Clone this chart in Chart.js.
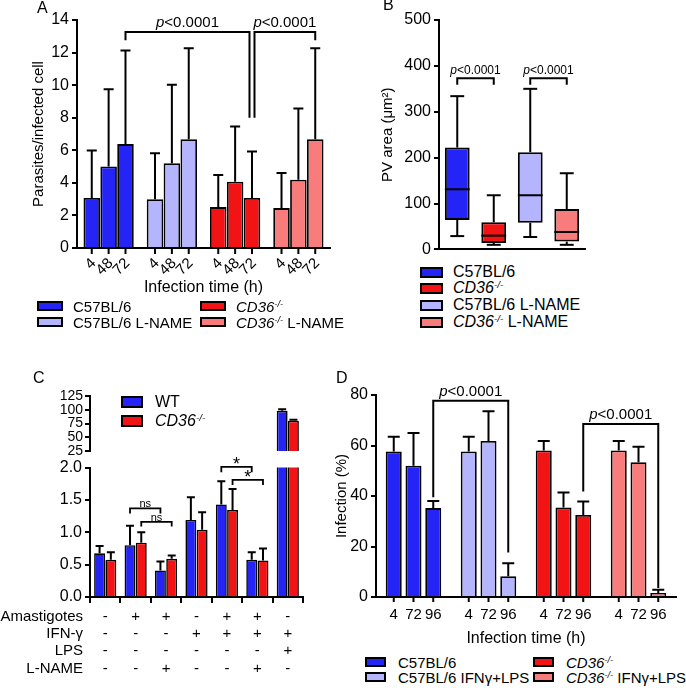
<!DOCTYPE html>
<html>
<head>
<meta charset="utf-8">
<script src="https://cdn.jsdelivr.net/npm/chart.js@4"></script>
<style>
  body { margin: 0; background: #fff; font-family: "Liberation Sans", Arial, sans-serif; color: #000; }
  #fig { position: relative; width: 686px; height: 688px; overflow: hidden; }
  #fig canvas { position: absolute; }
  .letter { position: absolute; font-size: 16px; line-height: 16px; }
  .leg { position: absolute; display: flex; align-items: center; white-space: nowrap; }
  .leg .sw { box-sizing: border-box; border: 2px solid #000; flex: none; }
  .leg sup { font-size: 0.62em; vertical-align: 0.55em; line-height: 0; }
</style>
</head>
<body>
<div id="fig">
  <canvas id="chartA" width="340" height="300" style="left:0;top:0"></canvas>
  <canvas id="chartB" width="343" height="262" style="left:343px;top:0"></canvas>
  <canvas id="chartCtop" width="320" height="80" style="left:0;top:380px"></canvas>
  <canvas id="chartCbot" width="320" height="230" style="left:0;top:455px"></canvas>
  <canvas id="chartD" width="356" height="275" style="left:330px;top:375px"></canvas>
  <div class="letter" style="left:37px;top:0">A</div>
  <div class="letter" style="left:383px;top:-3px">B</div>
  <div class="letter" style="left:33px;top:370px">C</div>
  <div class="letter" style="left:336px;top:370px">D</div>
</div>
<script>
// ---- Panel A: parasites per infected cell ----
const aGroups = ['C57BL/6', 'C57BL/6 L-NAME', 'CD36-/-', 'CD36-/- L-NAME'];
const aTimes = ['4', '48', '72'];
const aMean = [[3.07, 5.01, 6.38], [3.0, 5.21, 6.68], [2.51, 4.07, 3.07], [2.45, 4.19, 6.68]];
const aSD = [[2.92, 4.74, 5.74], [2.82, 4.82, 5.58], [1.97, 3.39, 2.86], [2.15, 4.37, 5.58]];

// ---- Panel B: PV area box plot ----
const bGroups = ['C57BL/6', 'CD36-/-', 'C57BL/6 L-NAME', 'CD36-/- L-NAME'];
const bMin = [29, 10, 27, 10];
const bQ1 = [64, 14, 58, 17];
const bMedian = [131, 30, 118, 38];
const bQ3 = [222, 59, 212, 88];
const bMax = [334, 118, 350, 166];

// ---- Panel C: nitrite ----
const cSeries = ['WT', 'CD36-/-'];
const cRowNames = ['Amastigotes', 'IFN-γ', 'LPS', 'L-NAME'];
const cAmastigotes = ['-', '+', '+', '-', '+', '+', '-'];
const cIfn = ['-', '-', '-', '+', '+', '+', '+'];
const cLps = ['-', '-', '-', '-', '-', '-', '+'];
const cLname = ['-', '-', '+', '-', '-', '+', '-'];
const cWT = [0.675, 0.80, 0.41, 1.19, 1.43, 0.575, 98];
const cWTsd = [0.115, 0.30, 0.14, 0.35, 0.36, 0.115, 3];
const cKO = [0.575, 0.84, 0.59, 1.04, 1.345, 0.565, 80];
const cKOsd = [0.115, 0.16, 0.05, 0.27, 0.325, 0.185, 2];
const cHighTicks = [25, 50, 75, 100, 125];

// ---- Panel D: infection % ----
const dGroups = ['C57BL/6', 'C57BL/6 IFNγ+LPS', 'CD36-/-', 'CD36-/- IFNγ+LPS'];
const dTimes = ['4', '72', '96'];
const dMean = [[57.6, 52, 35.2], [57.6, 61.8, 8.2], [58, 35.4, 32.5], [58, 53.4, 1.6]];
const dSD = [[5.9, 13, 2.8], [5.9, 11.8, 5.2], [3.8, 6, 5.3], [3.8, 6.1, 1.3]];

const BLUE = '#2424F6', LBLUE = '#B4B4FF', RED = '#F21414', SALMON = '#F87C7C';
const FONT = '"Liberation Sans", Arial, sans-serif';

Chart.defaults.font.family = FONT;
Chart.defaults.color = '#000';
Chart.defaults.animation = false;
Chart.defaults.plugins.legend.display = false;
Chart.defaults.plugins.tooltip.enabled = false;

// upward-only error bars, from dataset.sd
const errorBars = {
  id: 'errorBars',
  afterDatasetsDraw(chart, args, opts) {
    const ctx = chart.ctx, y = chart.scales.y;
    ctx.save();
    ctx.strokeStyle = '#000';
    ctx.lineWidth = 2;
    chart.data.datasets.forEach((ds, di) => {
      if (!ds.sd) return;
      chart.getDatasetMeta(di).data.forEach((bar, i) => {
        const v = ds.data[i], top = v + ds.sd[i];
        if (v < y.min || top > y.max) return;
        const py = y.getPixelForValue(top);
        ctx.beginPath();
        ctx.moveTo(bar.x, bar.y);
        ctx.lineTo(bar.x, py);
        ctx.moveTo(bar.x - opts.cap, py);
        ctx.lineTo(bar.x + opts.cap, py);
        ctx.stroke();
      });
    });
    ctx.restore();
  }
};

// one tick + label under every bar
const barTicks = {
  id: 'barTicks',
  afterDraw(chart, args, opts) {
    if (!opts.labels) return;
    const ctx = chart.ctx, base = chart.chartArea.bottom;
    ctx.save();
    ctx.font = opts.size + 'px ' + FONT;
    ctx.fillStyle = '#000';
    ctx.strokeStyle = '#000';
    ctx.lineWidth = 2;
    chart.data.datasets.forEach((ds, di) => {
      chart.getDatasetMeta(di).data.forEach(bar => {
        ctx.beginPath();
        ctx.moveTo(bar.x, base);
        ctx.lineTo(bar.x, base + opts.tick);
        ctx.stroke();
        ctx.save();
        ctx.translate(bar.x + opts.dx, base + opts.dy);
        ctx.rotate(-opts.rotate * Math.PI / 180);
        ctx.textAlign = opts.rotate ? 'right' : 'center';
        ctx.textBaseline = 'middle';
        ctx.fillText(opts.labels[di], 0, 0);
        ctx.restore();
      });
    });
    ctx.restore();
  }
};

function drawPText(ctx, text, x, y, size) {
  // leading "p" in italics, rest upright
  const italic = text.startsWith('p<');
  const head = italic ? 'p' : '', rest = italic ? text.slice(1) : text;
  ctx.font = 'italic ' + size + 'px ' + FONT;
  const w1 = ctx.measureText(head).width;
  ctx.font = size + 'px ' + FONT;
  const w2 = ctx.measureText(rest).width;
  let x0 = x - (w1 + w2) / 2;
  ctx.textAlign = 'left';
  ctx.textBaseline = 'alphabetic';
  if (head) {
    ctx.font = 'italic ' + size + 'px ' + FONT;
    ctx.fillText(head, x0, y);
  }
  ctx.font = size + 'px ' + FONT;
  ctx.fillText(rest, x0 + w1, y);
}

// significance brackets anchored on bars
const brackets = {
  id: 'brackets',
  afterDraw(chart, args, opts) {
    if (!opts.items) return;
    const ctx = chart.ctx, y = chart.scales.y;
    ctx.save();
    ctx.strokeStyle = '#000';
    ctx.fillStyle = '#000';
    ctx.lineWidth = opts.width || 2;
    opts.items.forEach(b => {
      const xL = chart.getDatasetMeta(b.from[0]).data[b.from[1]].x + (b.dxL || 0);
      const xR = chart.getDatasetMeta(b.to[0]).data[b.to[1]].x + (b.dxR || 0);
      const yT = y.getPixelForValue(b.top);
      ctx.beginPath();
      ctx.moveTo(xL, y.getPixelForValue(b.left));
      ctx.lineTo(xL, yT);
      ctx.lineTo(xR, yT);
      ctx.lineTo(xR, y.getPixelForValue(b.right));
      ctx.stroke();
      drawPText(ctx, b.text, (xL + xR) / 2, yT - opts.gap, opts.size);
    });
    ctx.restore();
  }
};

// whiskers and medians for the floating-bar boxes
const boxWhiskers = {
  id: 'boxWhiskers',
  afterDatasetsDraw(chart, args, opts) {
    const ctx = chart.ctx, y = chart.scales.y;
    ctx.save();
    ctx.strokeStyle = '#000';
    ctx.lineWidth = 2;
    chart.getDatasetMeta(0).data.forEach((bar, i) => {
      const half = bar.width / 2, cap = bar.width * 0.28;
      const line = (x1, y1, x2, y2) => { ctx.beginPath(); ctx.moveTo(x1, y1); ctx.lineTo(x2, y2); ctx.stroke(); };
      const pMed = y.getPixelForValue(opts.median[i]);
      line(bar.x - half, pMed, bar.x + half, pMed);
      const pMax = y.getPixelForValue(opts.max[i]), pMin = y.getPixelForValue(opts.min[i]);
      line(bar.x, y.getPixelForValue(opts.q3[i]), bar.x, pMax);
      line(bar.x - cap, pMax, bar.x + cap, pMax);
      line(bar.x, y.getPixelForValue(opts.q1[i]), bar.x, pMin);
      line(bar.x - cap, pMin, bar.x + cap, pMin);
    });
    ctx.restore();
  }
};

// row headers of the treatment table under panel C
const rowHeaders = {
  id: 'rowHeaders',
  afterDraw(chart, args, opts) {
    if (!opts.names) return;
    const ctx = chart.ctx, xs = chart.scales.x;
    const item = xs.getLabelItems()[0];
    const lh = opts.size * opts.lineHeight;
    ctx.save();
    ctx.font = opts.size + 'px ' + FONT;
    ctx.fillStyle = '#000';
    ctx.textAlign = 'right';
    ctx.textBaseline = item.options.textBaseline;
    opts.names.forEach((n, k) => {
      ctx.fillText(n, opts.right, item.options.translation[1] + item.textOffset + k * lh);
    });
    ctx.restore();
  }
};

function yAxis(min, max, step, width, title, titlePad, size) {
  return {
    min: min, max: max,
    ticks: { stepSize: step, font: { size: size || 16 }, padding: 3 },
    grid: { drawOnChartArea: false, color: '#000', lineWidth: 2, tickLength: 5 },
    border: { color: '#000', width: 2 },
    title: { display: !!title, text: title, font: { size: 15 }, padding: { top: titlePad, bottom: 0 } },
    afterFit: s => { s.width = width; }
  };
}

function xAxis(height, title, titlePad) {
  return {
    ticks: { display: false },
    grid: { display: false },
    border: { color: '#000', width: 2 },
    title: { display: !!title, text: title, font: { size: 16 }, padding: { top: 0, bottom: titlePad } },
    afterFit: s => { s.height = height; }
  };
}

function groupedBars(groups, times, mean, sd, colors) {
  return times.map((t, ti) => ({
    label: t + ' h',
    data: groups.map((g, gi) => mean[gi][ti]),
    sd: groups.map((g, gi) => sd[gi][ti]),
    backgroundColor: colors,
    borderColor: '#000',
    borderWidth: 1.8
  }));
}

// ---- A ----
new Chart(document.getElementById('chartA'), {
  type: 'bar',
  data: { labels: aGroups, datasets: groupedBars(aGroups, aTimes, aMean, aSD, [BLUE, LBLUE, RED, SALMON]) },
  options: {
    responsive: false,
    layout: { padding: { top: 20, right: 10, bottom: 0, left: 0 } },
    datasets: { bar: { categoryPercentage: 0.8, barPercentage: 0.98 } },
    scales: {
      x: xAxis(52, 'Infection time (h)', 3),
      y: yAxis(0, 14, 2, 77, 'Parasites/infected cell', 30)
    },
    plugins: {
      errorBars: { cap: 5 },
      barTicks: { labels: aTimes, size: 15, tick: 6, dx: 2, dy: 13, rotate: 45 },
      brackets: {
        size: 15, gap: 5,
        items: [
          { from: [2, 0], to: [2, 2], top: 13.26, left: 12.75, right: 8.0, dxR: -2.5, text: 'p<0.0001' },
          { from: [2, 2], to: [2, 3], top: 13.26, left: 8.0, right: 12.75, dxL: 2.5, text: 'p<0.0001' }
        ]
      }
    }
  },
  plugins: [errorBars, barTicks, brackets]
});

// ---- B ----
new Chart(document.getElementById('chartB'), {
  type: 'bar',
  data: {
    labels: bGroups,
    datasets: [{
      label: 'PV area',
      data: bGroups.map((g, i) => [bQ1[i], bQ3[i]]),
      backgroundColor: [BLUE, RED, LBLUE, SALMON],
      borderColor: '#000',
      borderWidth: 2,
      borderSkipped: false
    }]
  },
  options: {
    responsive: false,
    layout: { padding: { top: 20, right: 101, bottom: 12, left: 0 } },
    datasets: { bar: { categoryPercentage: 1, barPercentage: 0.68 } },
    scales: {
      x: xAxis(0),
      y: yAxis(0, 500, 100, 96, 'PV area (μm²)', 36)
    },
    plugins: {
      boxWhiskers: { min: bMin, q1: bQ1, median: bMedian, q3: bQ3, max: bMax },
      brackets: {
        size: 12, gap: 4,
        items: [
          { from: [0, 0], to: [0, 1], top: 373, left: 359, right: 359, text: 'p<0.0001' },
          { from: [0, 2], to: [0, 3], top: 373, left: 359, right: 359, text: 'p<0.0001' }
        ]
      }
    }
  },
  plugins: [boxWhiskers, brackets]
});

// ---- C (broken axis: two stacked charts) ----
const cLabels = cAmastigotes.map((a, i) => [a, cIfn[i], cLps[i], cLname[i]]);
const cDatasets = () => [
  { label: cSeries[0], data: cWT, sd: cWTsd, backgroundColor: BLUE, borderColor: '#000', borderWidth: 1.6 },
  { label: cSeries[1], data: cKO, sd: cKOsd, backgroundColor: RED, borderColor: '#000', borderWidth: 1.6 }
];

const cTopY = yAxis(25, 125, 25, 90, '', 0, 14);
cTopY.ticks.autoSkip = false;
cTopY.ticks.padding = 2;
cTopY.ticks.font = { size: 14, lineHeight: 0.8 };
cTopY.afterBuildTicks = s => { s.ticks = cHighTicks.map(v => ({ value: v })); };

new Chart(document.getElementById('chartCtop'), {
  type: 'bar',
  data: { labels: cLabels, datasets: cDatasets() },
  options: {
    responsive: false,
    layout: { padding: { top: 16, right: 17, bottom: 9, left: 0 } },
    datasets: { bar: { categoryPercentage: 0.74, barPercentage: 0.97 } },
    scales: { x: { display: false }, y: cTopY },
    plugins: { errorBars: { cap: 4 } }
  },
  plugins: [errorBars]
});

const cBotY = yAxis(0, 2, 0.5, 90, '', 0, 16);
cBotY.ticks.callback = v => v.toFixed(1);

new Chart(document.getElementById('chartCbot'), {
  type: 'bar',
  data: { labels: cLabels, datasets: cDatasets() },
  options: {
    responsive: false,
    layout: { padding: { top: 10, right: 17, bottom: 0, left: 0 } },
    datasets: { bar: { categoryPercentage: 0.74, barPercentage: 0.97 } },
    scales: {
      x: {
        ticks: { font: { size: 15, lineHeight: 1.15 }, padding: 5, maxRotation: 0, autoSkip: false },
        grid: { drawOnChartArea: false, color: '#000', lineWidth: 2, tickLength: 6 },
        border: { color: '#000', width: 2 },
        afterFit: s => { s.height = 88; }
      },
      y: cBotY
    },
    plugins: {
      errorBars: { cap: 4 },
      rowHeaders: { names: cRowNames, size: 15, lineHeight: 1.15, right: 83 },
      brackets: {
        size: 11, gap: 1, width: 1.8,
        items: [
          { from: [0, 1], to: [0, 2], top: 1.37, left: 1.29, right: 1.29, text: 'ns' },
          { from: [1, 1], to: [1, 2], top: 1.16, left: 1.09, right: 1.09, text: 'ns' }
        ]
      }
    }
  },
  plugins: [errorBars, rowHeaders, brackets, {
    id: 'stars',
    afterDraw(chart) {
      // asterisk brackets sit partly above the 2.0 line
      brackets.afterDraw(chart, null, {
        size: 18, gap: -3, width: 1.8,
        items: [
          { from: [0, 4], to: [0, 5], top: 2.01, left: 1.93, right: 1.93, text: '*' },
          { from: [1, 4], to: [1, 5], top: 1.81, left: 1.73, right: 1.73, text: '*' }
        ]
      });
    }
  }]
});

// ---- D ----
new Chart(document.getElementById('chartD'), {
  type: 'bar',
  data: { labels: dGroups, datasets: groupedBars(dGroups, dTimes, dMean, dSD, [BLUE, LBLUE, RED, SALMON]) },
  options: {
    responsive: false,
    layout: { padding: { top: 20, right: 10, bottom: 0, left: 0 } },
    datasets: { bar: { categoryPercentage: 0.79, barPercentage: 0.81 } },
    scales: {
      x: xAxis(53, 'Infection time (h)', 2),
      y: yAxis(0, 80, 20, 46, 'Infection (%)', 3)
    },
    plugins: {
      errorBars: { cap: 6 },
      barTicks: { labels: dTimes, size: 15, tick: 5, dx: 0, dy: 18, rotate: 0 },
      brackets: {
        size: 15, gap: 5,
        items: [
          { from: [2, 0], to: [2, 1], top: 77.7, left: 39.5, right: 17.6, text: 'p<0.0001' },
          { from: [2, 2], to: [2, 3], top: 68.5, left: 41.8, right: 3.6, text: 'p<0.0001' }
        ]
      }
    }
  },
  plugins: [errorBars, barTicks, brackets]
});

// ---- HTML legends ----
const fmtName = s => s.replace('CD36-/-', '<i>CD36<sup>-/-</sup></i>');

function legend(names, colors, spots, sw, gap, size) {
  const fig = document.getElementById('fig');
  names.forEach((n, i) => {
    const el = document.createElement('div');
    el.className = 'leg';
    el.style.left = spots[i][0] + 'px';
    el.style.top = (spots[i][1] - 8) + 'px';
    el.style.height = '16px';
    el.style.fontSize = size + 'px';
    el.innerHTML = '<span class="sw" style="width:' + sw[0] + 'px;height:' + sw[1] + 'px;background:' +
      colors[i] + ';margin-right:' + gap + 'px"></span><span>' + fmtName(n) + '</span>';
    fig.appendChild(el);
  });
}

legend(aGroups, [BLUE, LBLUE, RED, SALMON], [[37, 306], [37, 322], [200, 306], [200, 322]], [26, 10], 10, 15);
legend(bGroups, [BLUE, RED, LBLUE, SALMON], [[420, 272], [420, 288], [420, 305], [420, 322]], [23, 11], 10, 16);
legend(cSeries, [BLUE, RED], [[121, 402], [121, 421]], [22, 12], 12, 16);
legend(dGroups, [BLUE, LBLUE, RED, SALMON], [[365, 662], [365, 677], [533, 662], [533, 677]], [21, 10], 12, 15);
</script>
</body>
</html>
